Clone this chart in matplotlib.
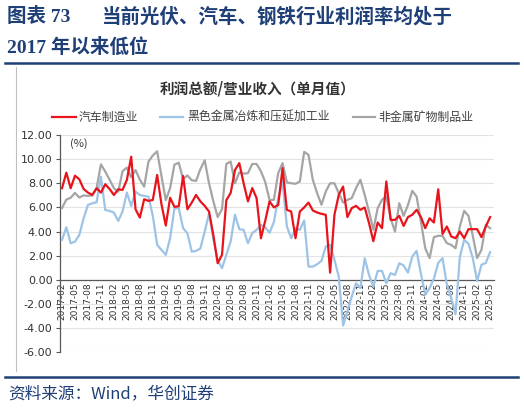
import matplotlib
matplotlib.use("Agg")
import matplotlib.pyplot as plt
from matplotlib.lines import Line2D
import numpy as np
import pandas as pd

plt.rcParams['font.family'] = ['Noto Sans CJK SC', 'DejaVu Sans']

# ---------------- data ----------------
months = pd.period_range('2017-02', '2025-05', freq='M').strftime('%Y-%m').tolist()

auto = [7.59, 8.88, 7.59, 8.63, 8.33, 7.53, 7.23, 7.03, 7.59, 7.23,
        7.92, 7.53, 7.03, 7.50, 7.45, 8.28, 10.2, 5.85, 5.16, 6.68,
        6.54, 6.62, 8.69, 6.26, 4.50, 6.80, 6.05, 6.10, 8.60, 5.85,
        6.40, 7.03, 6.50, 6.13, 5.66, 3.70, 1.38, 2.07, 6.60, 7.20,
        9.10, 9.67, 8.00, 6.50, 7.60, 6.77, 3.45, 4.90, 6.50, 6.00,
        6.20, 9.25, 5.80, 5.66, 3.45, 5.66, 6.00, 6.40, 5.75, 5.58,
        5.47, 5.39, 0.60, 5.39, 7.04, 7.73, 5.20, 5.94, 6.13, 5.80,
        6.00, 4.70, 3.20, 4.75, 4.28, 8.15, 4.97, 4.97, 5.30, 4.47,
        5.20, 5.39, 5.80, 5.20, 4.28, 5.10, 4.75, 7.50, 3.80, 4.42,
        3.60, 3.45, 4.00, 3.45, 4.20, 4.20, 4.20, 3.54, 4.42, 5.20]

steel = [3.31, 4.36, 3.03, 3.17, 3.72, 5.10, 6.21, 6.34, 6.43, 8.55,
         5.79, 5.71, 5.57, 4.88, 5.66, 7.23, 6.12, 7.31, 7.03, 6.95,
         6.90, 5.30, 2.90, 2.48, 2.07, 3.45, 5.93, 5.93, 4.28, 3.86,
         2.34, 2.40, 2.60, 4.00, 5.50, 3.40, 1.60, 0.97, 2.07, 3.18,
         5.40, 4.20, 4.14, 3.04, 3.87, 4.14, 4.56, 4.35, 3.90, 4.80,
         6.77, 8.15, 4.42, 3.45, 4.28, 4.14, 4.92, 1.10, 1.10, 1.30,
         1.57, 2.76, 2.90, 1.66, 0.28, -3.78, -2.62, -1.38, -0.28, -0.69,
         1.79, 0.41, -0.55, 0.74, 0.74, -0.28, 0.55, 0.41, 1.38, 1.19,
         0.60, 1.93, 2.40, 0.50, -1.20, -0.70, 0.10, 1.40, 1.80, -0.40,
         -1.50, -2.85, 1.90, 3.30, 3.00, 1.80, -0.10, 1.25, 1.40, 2.30]

nonmetal = [5.94, 6.65, 6.80, 7.20, 6.82, 7.00, 6.95, 7.00, 7.60, 9.57,
            8.97, 8.30, 7.60, 7.30, 9.00, 9.30, 8.50, 9.10, 8.30, 7.72,
            9.80, 10.30, 10.65, 8.60, 6.60, 7.60, 9.55, 9.70, 8.35, 8.65,
            8.25, 8.20, 9.17, 9.90, 8.00, 6.50, 5.20, 5.86, 9.60, 9.80,
            8.00, 8.90, 8.80, 8.84, 9.60, 9.60, 9.00, 8.10, 6.60, 6.63,
            8.84, 9.67, 8.07, 8.00, 7.96, 8.15, 10.60, 10.36, 8.29, 7.18,
            6.22, 7.32, 8.00, 8.00, 7.18, 6.40, 6.63, 6.77, 7.60, 8.29,
            7.04, 5.66, 4.14, 5.94, 6.63, 6.90, 5.10, 4.00, 6.35, 5.30,
            6.20, 7.37, 6.90, 4.83, 2.62, 1.80, 3.54, 3.65, 3.65, 3.04,
            2.90, 2.62, 4.42, 5.72, 5.30, 3.65, 1.80, 2.48, 4.56, 4.28]

series_names = ['汽车制造业', '黑色金属冶炼和压延加工业', '非金属矿物制品业']
series_colors = ['#E8141C', '#9DC3E6', '#A5A5A5']
yticks = [12, 10, 8, 6, 4, 2, 0, -2, -4, -6]

title1a = '图表 73'
title1b = '当前光伏、汽车、钢铁行业利润率均处于'
title2 = '2017 年以来低位'
chart_title = '利润总额/营业收入（单月值）'
unit = '(%)'
source = '资料来源：Wind，华创证券'

# ---------------- figure ----------------
W, H = 524, 408
fig = plt.figure(figsize=(W / 100, H / 100), dpi=100)
navy = '#1F3F77'

def fx(px):
    return px / W

def fy(py):
    return 1 - py / H

serif_cjk = ['Liberation Serif', 'Noto Sans CJK SC']
fig.text(fx(7), fy(17), title1a, fontsize=14, fontweight='bold', color=navy,
         family=serif_cjk, va='center', ha='left')
fig.text(fx(102), fy(17), title1b, fontsize=14, fontweight='bold', color=navy,
         family=serif_cjk, va='center', ha='left')
fig.text(fx(7), fy(47), title2, fontsize=14, fontweight='bold', color=navy,
         family=serif_cjk, va='center', ha='left')

fig.add_artist(Line2D([fx(5), fx(518)], [fy(62.5), fy(62.5)], color=navy, lw=1.8))
fig.add_artist(Line2D([fx(5), fx(518)], [fy(377), fy(377)], color=navy, lw=1.8))
fig.add_artist(Line2D([fx(15.5), fx(15.5)], [fy(67), fy(371)], color='#BFBFBF', lw=0.8))

fig.text(fx(258), fy(89), chart_title, fontsize=10.5, fontweight='bold',
         color='#333333', ha='center', va='center')

fig.text(fx(8), fy(394), source, fontsize=12, color=navy, style='italic',
         family=['Noto Sans CJK SC', 'DejaVu Sans'], ha='left', va='center')

# ---------------- axes ----------------
ax = fig.add_axes([fx(59.5), fy(352.3), fx(494 - 59.5), (352.3 - 135) / H])

for s in ['top', 'right']:
    ax.spines[s].set_visible(False)
ax.spines['bottom'].set_position(('data', 0))
ax.spines['bottom'].set_color('#595959')
ax.spines['bottom'].set_linewidth(0.9)
ax.spines['bottom'].set_zorder(2)
ax.spines['left'].set_color('#595959')
ax.spines['left'].set_linewidth(0.9)

x = np.arange(len(months))
ax.plot(x, nonmetal, color=series_colors[2], lw=1.6, zorder=3)
ax.plot(x, steel, color=series_colors[1], lw=1.6, zorder=4)
ax.plot(x, auto, color=series_colors[0], lw=1.6, zorder=5)

ax.set_ylim(-6, 12)
ax.set_xlim(-0.58, 99.9)
ax.set_yticks(yticks)
ax.set_yticklabels([f'{v:.2f}' for v in yticks], fontsize=8, color='#333333',
                   family='DejaVu Sans')
ax.grid(axis='y', color='#E3E3E3', lw=0.8, zorder=0)
ax.set_axisbelow(True)

ax.set_xticks(x[::3])
ax.set_xticklabels(months[::3], rotation=90, fontsize=6.5, color='#333333',
                   family='DejaVu Sans')
ax.tick_params(axis='y', length=3, width=0.8, color='#595959', pad=2)
ax.tick_params(axis='x', length=0, pad=2)

ax.text(0.025, 0.96, unit, transform=ax.transAxes, fontsize=8, color='#333333',
        ha='left', va='center')

# legend
leg_items = [(52, 76, 79), (160, 183, 187), (353, 375, 378)]
for (x0, x1, xt), name, c in zip(leg_items, series_names, series_colors):
    fig.add_artist(Line2D([fx(x0), fx(x1)], [fy(117), fy(117)], color=c, lw=1.6))
    fig.text(fx(xt), fy(117), name, fontsize=8.6, color='#404040',
             ha='left', va='center')

fig.savefig('out.png', dpi=100)
